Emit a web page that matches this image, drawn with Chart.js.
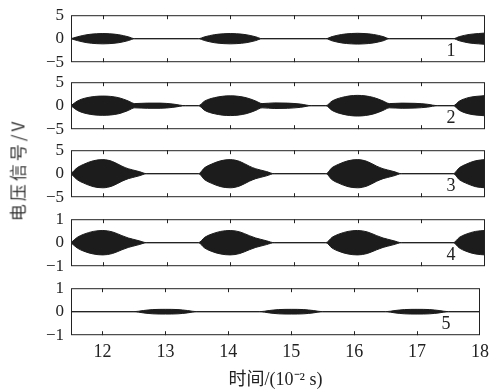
<!DOCTYPE html>
<html lang="zh">
<head>
<meta charset="UTF-8">
<title>电压信号</title>
<script src="https://cdn.jsdelivr.net/npm/chart.js@4.4.0/dist/chart.umd.min.js"></script>
<style>
    body { margin: 0; background: #fff; }
    #wrap { position: relative; width: 495px; height: 391px; overflow: hidden; }
    #wrap canvas { position: absolute; left: 0; }
    #ytitle {
        position: absolute; left: 17px; top: 170px;
        transform: translate(-50%, -50%) rotate(-90deg);
        font: 17px "Noto Sans CJK SC", sans-serif; letter-spacing: 3px; color: #333; white-space: nowrap;
    }
</style>
</head>
<body>
<div id="wrap">
    <canvas id="p1" width="495" height="67"></canvas>
    <canvas id="p2" width="495" height="67"></canvas>
    <canvas id="p3" width="495" height="67"></canvas>
    <canvas id="p4" width="495" height="67"></canvas>
    <canvas id="p5" width="495" height="113"></canvas>
    <div id="ytitle">电压信号/V</div>
</div>
<script>
// x axis (10^-2 s)
const xTicks = [12, 13, 14, 15, 16, 17, 18];
const panelNames = ['1', '2', '3', '4', '5'];
const yLimits = [5, 5, 5, 1, 1];

// envelope of each signal (amplitude, V)
const t1 = [11.5, 11.6, 11.75, 11.9, 12, 12.1, 12.25, 12.4, 12.5, 13.5, 13.6, 13.75, 13.9, 14, 14.1, 14.25, 14.4, 14.5,
            15.5, 15.6, 15.75, 15.9, 16, 16.1, 16.25, 16.4, 16.5, 17.5, 17.6, 17.75, 17.9, 18];
const a1 = [0, 0.4, 0.85, 1.05, 1.1, 1.05, 0.85, 0.4, 0, 0, 0.4, 0.85, 1.05, 1.1, 1.05, 0.85, 0.4, 0,
            0, 0.45, 0.9, 1.1, 1.15, 1.1, 0.9, 0.45, 0, 0, 0.45, 0.9, 1.1, 1.2];

const t2 = [11.5, 11.6, 11.75, 12, 12.25, 12.4, 12.5, 12.7, 12.9, 13.1, 13.3, 13.5, 13.6, 13.75, 14, 14.25, 14.4, 14.5,
            14.7, 14.9, 15.1, 15.28, 15.5, 15.6, 15.75, 16, 16.25, 16.4, 16.5, 16.7, 16.9, 17.1, 17.25, 17.5, 17.6, 17.75, 18];
const a2 = [0, 1.0, 1.7, 2.05, 1.7, 1.0, 0.45, 0.55, 0.55, 0.35, 0, 0, 1.0, 1.7, 2.1, 1.7, 1.0, 0.45,
            0.6, 0.55, 0.35, 0, 0, 1.0, 1.75, 2.2, 1.75, 1.0, 0.45, 0.55, 0.5, 0.3, 0, 0, 1.0, 1.75, 2.15];

const t3 = [11.5, 11.6, 11.7, 11.85, 12, 12.15, 12.3, 12.4, 12.47, 12.57, 12.69,
            13.5, 13.6, 13.7, 13.85, 14, 14.15, 14.3, 14.4, 14.47, 14.57, 14.69,
            15.5, 15.6, 15.7, 15.85, 16, 16.15, 16.3, 16.4, 16.47, 16.57, 16.69,
            17.5, 17.6, 17.7, 17.85, 18];
const a3 = [0, 1.3, 2.0, 2.75, 3.0, 2.6, 1.6, 1.05, 0.8, 0.45, 0,
            0, 1.3, 2.0, 2.75, 3.0, 2.6, 1.6, 1.05, 0.8, 0.45, 0,
            0, 1.3, 2.0, 2.75, 3.0, 2.6, 1.6, 1.05, 0.8, 0.45, 0,
            0, 1.3, 2.0, 2.75, 3.0];

const t4 = t3;
const a4 = [0, 0.23, 0.36, 0.48, 0.52, 0.46, 0.3, 0.2, 0.15, 0.08, 0,
            0, 0.23, 0.36, 0.48, 0.52, 0.46, 0.3, 0.2, 0.15, 0.08, 0,
            0, 0.23, 0.36, 0.48, 0.52, 0.46, 0.3, 0.2, 0.15, 0.08, 0,
            0, 0.23, 0.36, 0.48, 0.52];

const t5 = [11.5, 12.5, 12.65, 12.8, 13, 13.2, 13.35, 13.5, 14.5, 14.65, 14.8, 15, 15.2, 15.35, 15.5,
            16.5, 16.65, 16.8, 17, 17.2, 17.35, 17.5, 18];
const a5 = [0, 0, 0.05, 0.09, 0.1, 0.09, 0.05, 0, 0, 0.05, 0.09, 0.1, 0.09, 0.05, 0,
            0, 0.05, 0.09, 0.1, 0.09, 0.05, 0, 0];

const series = [[t1, a1], [t2, a2], [t3, a3], [t4, a4], [t5, a5]];

// page layout: top of each plot box and its height (px)
const boxTops = [15, 82, 150, 219, 288];
const boxH = 47;

const ink = '#1c1c1c';
const serif = '"Liberation Serif", "Times New Roman", serif';

// box, inward x ticks and panel number
const frame = {
    id: 'frame',
    afterDatasetsDraw(chart, args, opts) {
        const { ctx, chartArea: a } = chart;
        const x = chart.scales.x;
        ctx.save();
        ctx.strokeStyle = '#222';
        ctx.lineWidth = 1;
        ctx.strokeRect(a.left + 0.5, a.top + 0.5, a.right - a.left - 1, a.bottom - a.top - 1);
        ctx.beginPath();
        xTicks.forEach(v => {
            if (v <= x.min || v >= x.max) return;
            const px = Math.round(x.getPixelForValue(v)) + 0.5;
            ctx.moveTo(px, a.top); ctx.lineTo(px, a.top + 4);
            ctx.moveTo(px, a.bottom); ctx.lineTo(px, a.bottom - 4);
        });
        ctx.stroke();
        ctx.fillStyle = '#222';
        ctx.font = '18px ' + serif;
        ctx.textAlign = 'center';
        ctx.textBaseline = 'middle';
        ctx.fillText(opts.label, a.right - 34, a.bottom - 11);
        ctx.restore();
    }
};

series.forEach(([t, amp], i) => {
    const last = i === series.length - 1;
    const lim = yLimits[i];
    const upper = t.map((v, k) => ({ x: v, y: amp[k] }));
    const lower = t.map((v, k) => ({ x: v, y: -amp[k] }));
    const line = { borderColor: ink, backgroundColor: ink, borderWidth: 1, pointRadius: 0, cubicInterpolationMode: 'monotone' };
    const canvas = document.getElementById('p' + (i + 1));

    const chart = new Chart(canvas, {
        type: 'line',
        data: {
            datasets: [
                Object.assign({ data: upper, fill: '+1' }, line),
                Object.assign({ data: lower, fill: false }, line)
            ]
        },
        options: {
            responsive: false,
            maintainAspectRatio: false,
            animation: false,
            layout: { padding: { top: 10, right: 10, bottom: last ? 0 : 10, left: 0 } },
            plugins: { legend: { display: false }, tooltip: { enabled: false }, frame: { label: panelNames[i] } },
            scales: {
                x: {
                    type: 'linear', min: 11.5, max: 18,
                    display: last,
                    afterBuildTicks: s => { s.ticks = xTicks.map(v => ({ value: v })); },
                    afterFit: s => { if (last) s.height = 56; },
                    grid: { display: false, drawTicks: false },
                    border: { display: false },
                    ticks: { padding: 6, color: '#222', font: { family: serif, size: 18 } },
                    title: {
                        display: true, text: '时间/(10⁻² s)', color: '#222',
                        padding: { top: 0, bottom: 0 },
                        font: { family: serif + ', "Noto Sans CJK SC"', size: 18 }
                    }
                },
                y: {
                    min: -lim, max: lim,
                    afterFit: s => { s.width = 71; },
                    grid: { display: false, drawTicks: false },
                    border: { display: false },
                    ticks: {
                        stepSize: lim, padding: 7, color: '#222', autoSkip: false,
                        font: { family: serif, size: 17 },
                        callback: v => String(v).replace('-', '\u2212')
                    }
                }
            }
        },
        plugins: [frame]
    });

    // grow the canvas so the plot box gets its height, then place it
    const extra = boxH - (chart.chartArea.bottom - chart.chartArea.top);
    const h = canvas.height + extra;
    canvas.style.height = h + 'px';
    chart.resize(495, h);
    canvas.style.top = (boxTops[i] - chart.chartArea.top) + 'px';
});
</script>
</body>
</html>
